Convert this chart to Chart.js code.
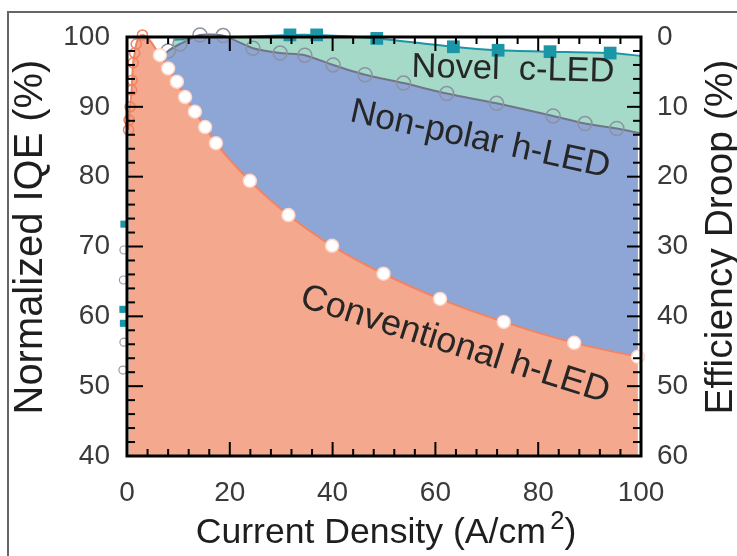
<!DOCTYPE html>
<html><head><meta charset="utf-8">
<script src="https://cdn.jsdelivr.net/npm/chart.js@4.4.1/dist/chart.umd.min.js"></script>
<style>html,body{margin:0;padding:0;background:#fff;overflow:hidden}</style>
</head><body>
<canvas id="c" width="737" height="556"></canvas>
<script>
// ---- data ----
const xTicks = [0, 20, 40, 60, 80, 100];
const iqeTicks = [40, 50, 60, 70, 80, 90, 100];
const droopTicks = [0, 10, 20, 30, 40, 50, 60];

// Conventional h-LED (normalized IQE vs current density)
const convX = [0.3, 0.4, 0.6, 0.9, 1.0, 1.2, 1.5, 1.8, 3.0, 6.4, 8.0, 9.7, 11.3, 13.2, 15.2, 17.3, 23.9, 31.4, 39.9, 49.9, 60.9, 73.3, 87.0, 99.4];
const convY = [86.7, 88.1, 90.0, 92.4, 93.8, 96.3, 97.7, 99.0, 100.3, 97.4, 95.5, 93.6, 91.4, 89.3, 87.1, 84.8, 79.4, 74.5, 70.1, 66.1, 62.5, 59.2, 56.2, 54.2];

// Non-polar h-LED
const npX = [6.0, 8.0, 10.3, 14.2, 18.7, 24.5, 29.8, 34.6, 40.1, 46.3, 53.8, 62.2, 71.9, 82.9, 89.1, 95.3, 100];
const npY = [96.5, 98.0, 99.0, 100.3, 100.2, 98.4, 97.7, 97.4, 96.0, 94.6, 93.4, 91.9, 90.5, 88.7, 87.6, 86.9, 86.2];

// Novel c-LED
const novX = [9.0, 31.7, 36.9, 48.6, 63.5, 72.2, 82.3, 94.0, 100];
const novY = [99.6, 100.3, 100.3, 99.8, 98.6, 98.1, 97.9, 97.7, 97.3];

// very-low-current points drawn just left of the axis
const lowNpX = [-0.6, -0.7, -0.6, -0.8];
const lowNpY = [69.5, 65.2, 56.3, 52.3];
const lowNovX = [-0.6, -0.8, -0.7];
const lowNovY = [73.2, 61.0, 59.0];

const pts = (xs, ys) => xs.map((x, i) => ({x, y: ys[i]}));

const FONT = '"Liberation Sans", Arial, Helvetica, sans-serif';

function fitFont(ctx, text, width, base) {
  ctx.font = base + 'px ' + FONT;
  const w = ctx.measureText(text).width;
  return base * width / w;
}

const decor = {
  id: 'decor',
  beforeDraw(chart) {
    const ctx = chart.ctx;
    ctx.save();
    ctx.fillStyle = '#fff';
    ctx.fillRect(0, 0, chart.width, chart.height);
    ctx.strokeStyle = '#666';
    ctx.lineWidth = 2;
    ctx.strokeRect(8, 12, 800, 700);
    ctx.restore();
  },
  afterDatasetsDraw(chart) {
    const {ctx, chartArea: a, scales: {x, y, y2}} = chart;
    ctx.save();
    ctx.strokeStyle = '#000';
    const tick = (x1, y1, x2, y2_, w) => { ctx.lineWidth = w; ctx.beginPath(); ctx.moveTo(x1, y1); ctx.lineTo(x2, y2_); ctx.stroke(); };
    for (let v = 0; v <= 100; v += 4) {
      const px = x.getPixelForValue(v);
      const L = v % 20 === 0 ? 14 : 7;
      tick(px, a.bottom, px, a.bottom - L, 2);
      tick(px, a.top, px, a.top + L, 2);
    }
    for (let v = 40; v <= 100; v += 2) {
      const py = y.getPixelForValue(v);
      const L = v % 10 === 0 ? 16 : 8;
      tick(a.left, py, a.left + L, py, 2);
    }
    for (let v = 0; v <= 60; v += 2) {
      const py = y2.getPixelForValue(v);
      const L = v % 10 === 0 ? 14 : 8;
      tick(a.right, py, a.right - L, py, 2);
    }
    ctx.lineWidth = 3;
    ctx.strokeRect(a.left, a.top, a.right - a.left, a.bottom - a.top);

    // in-plot labels
    ctx.fillStyle = '#262626';
    ctx.textAlign = 'center';
    ctx.textBaseline = 'middle';
    const label = (text, dx, dy, ang, width) => {
      const s = fitFont(ctx, text, width, 32);
      ctx.save();
      ctx.translate(x.getPixelForValue(dx), y.getPixelForValue(dy));
      ctx.rotate(ang * Math.PI / 180);
      ctx.font = s + 'px ' + FONT;
      ctx.fillText(text, 0, 0);
      ctx.restore();
    };
    label('Novel  c-LED', 75.1, 95.3, 1.5, 203);
    label('Non-polar h-LED', 68.7, 85.3, 12.3, 265);
    label('Conventional h-LED', 63.8, 55.9, 17.5, 322);

    // axis titles
    ctx.fillStyle = '#1e1e1e';
    const t1 = 'Normalized IQE (%)';
    let s = fitFont(ctx, t1, 355, 36);
    ctx.save(); ctx.translate(31, 237); ctx.rotate(-Math.PI / 2);
    ctx.font = s + 'px ' + FONT; ctx.fillText(t1, 0, 0); ctx.restore();

    const t2 = 'Efficiency Droop (%)';
    s = fitFont(ctx, t2, 355, 36);
    ctx.save(); ctx.translate(721, 237); ctx.rotate(-Math.PI / 2);
    ctx.font = s + 'px ' + FONT; ctx.fillText(t2, 0, 0); ctx.restore();

    // x title with superscript
    const main = 'Current Density (A/cm', sup = '2', close = ')';
    s = fitFont(ctx, main + ' ' + sup + close, 392, 34);
    ctx.font = s + 'px ' + FONT;
    const wMain = ctx.measureText(main).width;
    const wGap = s * 0.12;
    const wClose = ctx.measureText(close).width;
    ctx.font = (s * 0.72) + 'px ' + FONT;
    const wSup = ctx.measureText(sup).width;
    const total = wMain + wGap + wSup + wClose;
    let cx = 386 - total / 2;
    ctx.textAlign = 'left';
    ctx.textBaseline = 'alphabetic';
    const base = 543;
    ctx.font = s + 'px ' + FONT;
    ctx.fillText(main, cx, base); cx += wMain + wGap;
    ctx.font = (s * 0.72) + 'px ' + FONT;
    ctx.fillText(sup, cx, base - s * 0.38); cx += wSup;
    ctx.font = s + 'px ' + FONT;
    ctx.fillText(close, cx, base);
    ctx.restore();
  }
};

const ORANGE_FILL = 'rgb(244,168,142)';
const BLUE_FILL = 'rgb(142,166,214)';
const MINT_FILL = 'rgb(166,218,200)';
const TEAL = 'rgb(26,150,166)';

new Chart(document.getElementById('c'), {
  type: 'line',
  data: {
    datasets: [
      {
        label: 'Conventional h-LED',
        data: pts(convX, convY),
        borderColor: 'rgb(240,132,100)',
        borderWidth: 2,
        backgroundColor: ORANGE_FILL,
        fill: 'start',
        cubicInterpolationMode: 'monotone',
        pointRadius: c => (c.raw && c.raw.x < 5) ? 5 : 6.5,
        pointBackgroundColor: c => (c.raw && c.raw.x < 5) ? 'rgba(0,0,0,0)' : '#ffffff',
        pointBorderColor: c => (c.raw && c.raw.x < 5) ? 'rgb(240,130,95)' : 'rgb(255,214,200)',
        pointBorderWidth: 1.5,
        clip: {left: 10, top: 10, right: 10, bottom: 0}
      },
      {
        label: 'Non-polar h-LED',
        data: pts(npX, npY),
        borderColor: 'rgb(112,118,136)',
        borderWidth: 2,
        backgroundColor: BLUE_FILL,
        fill: '-1',
        tension: 0.2,
        pointRadius: c => (c.raw && c.raw.x >= 100) ? 0 : 7,
        pointBackgroundColor: 'rgba(0,0,0,0)',
        pointBorderColor: 'rgb(140,146,162)',
        pointBorderWidth: 1.5,
        clip: {left: 10, top: 10, right: 10, bottom: 0}
      },
      {
        label: 'Novel c-LED',
        data: pts(novX, novY),
        borderColor: TEAL,
        borderWidth: 2,
        backgroundColor: MINT_FILL,
        fill: '-1',
        tension: 0.2,
        pointStyle: 'rect',
        pointRadius: c => (c.raw && (c.raw.x >= 100 || c.raw.x < 10)) ? 0 : 9,
        pointBackgroundColor: TEAL,
        pointBorderColor: TEAL,
        pointBorderWidth: 0,
        clip: {left: 10, top: 10, right: 10, bottom: 0}
      },
      {
        label: 'low np',
        data: pts(lowNpX, lowNpY),
        showLine: false, fill: false,
        pointRadius: 4, pointBackgroundColor: 'rgba(0,0,0,0)',
        pointBorderColor: 'rgb(150,155,170)', pointBorderWidth: 1.2,
        clip: false
      },
      {
        label: 'low nov',
        data: pts(lowNovX, lowNovY),
        showLine: false, fill: false, pointStyle: 'rect',
        pointRadius: 5, pointBackgroundColor: TEAL, pointBorderColor: TEAL, pointBorderWidth: 0,
        clip: false
      }
    ]
  },
  options: {
    responsive: false,
    animation: false,
    devicePixelRatio: 1,
    layout: {padding: {top: 37, left: 0, right: 0, bottom: 0}},
    plugins: {legend: {display: false}, tooltip: {enabled: false}},
    elements: {line: {borderJoinStyle: 'round'}},
    scales: {
      x: {
        type: 'linear', min: 0, max: 100,
        afterBuildTicks: s => { s.ticks = xTicks.map(v => ({value: v})); },
        grid: {display: false}, border: {display: false},
        ticks: {padding: 12, color: '#3a3a3a', font: {family: FONT, size: 28}, maxRotation: 0},
        afterFit: s => { s.height = 100; }
      },
      y: {
        type: 'linear', position: 'left', min: 40, max: 100,
        afterBuildTicks: s => { s.ticks = iqeTicks.map(v => ({value: v})); },
        grid: {display: false}, border: {display: false},
        ticks: {padding: 9, color: '#3a3a3a', font: {family: FONT, size: 28}},
        afterFit: s => { s.width = 127; }
      },
      y2: {
        type: 'linear', position: 'right', min: 0, max: 60, reverse: true,
        afterBuildTicks: s => { s.ticks = droopTicks.map(v => ({value: v})); },
        grid: {display: false}, border: {display: false},
        ticks: {padding: 8, color: '#3a3a3a', font: {family: FONT, size: 28}},
        afterFit: s => { s.width = 96; }
      }
    }
  },
  plugins: [decor]
});
</script>
</body></html>
